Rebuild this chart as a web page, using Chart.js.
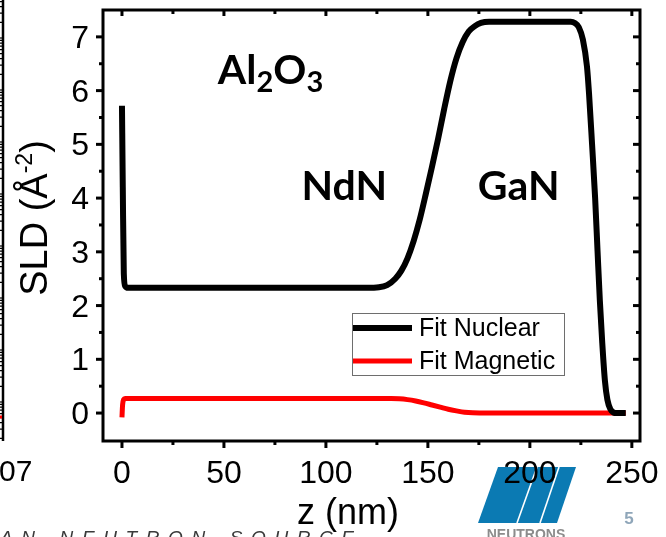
<!DOCTYPE html>
<html>
<head>
<meta charset="utf-8">
<script src="https://cdn.jsdelivr.net/npm/chart.js@4.4.1/dist/chart.umd.min.js"></script>
<style>
  html, body { margin: 0; padding: 0; background: #ffffff; }
  #wrap { width: 666px; height: 537px; position: relative; }
</style>
</head>
<body>
<div id="wrap"><canvas id="sld" width="666" height="537"></canvas></div>
<script>
// Depth profile of the scattering length density, z in nm
const zNuclear = [0, 0.4, 0.9, 1.6, 3, 60, 120, 126, 130, 134, 137, 140, 143, 146, 149, 152, 155, 158, 161, 164, 167, 170, 173, 176, 180, 200, 220, 222, 224, 226, 228, 229, 230.5, 232, 233.2, 234.3, 235.5, 236.8, 238, 239.5, 241, 242.5, 247];
const sldNuclear = [5.72, 4.2, 2.6, 2.36, 2.33, 2.33, 2.33, 2.34, 2.38, 2.5, 2.65, 2.88, 3.2, 3.6, 4.08, 4.58, 5.1, 5.66, 6.18, 6.6, 6.9, 7.1, 7.2, 7.26, 7.28, 7.28, 7.28, 7.26, 7.18, 6.95, 6.45, 5.95, 5.0, 4.0, 3.0, 2.1, 1.3, 0.6, 0.25, 0.07, 0.01, 0.0, 0.0];

const zMagnetic = [0, 0.3, 0.8, 1.5, 3, 60, 120, 132, 136, 140, 144, 148, 152, 156, 160, 164, 168, 172, 180, 247];
const sldMagnetic = [-0.08, 0.15, 0.25, 0.27, 0.27, 0.27, 0.27, 0.27, 0.265, 0.25, 0.225, 0.19, 0.15, 0.11, 0.07, 0.04, 0.015, 0.004, 0, 0];

const seriesNames = ['Fit Nuclear', 'Fit Magnetic'];
const seriesColors = ['#000000', '#ff0000'];

// Axis ticks
const xTickValues = [0, 50, 100, 150, 200, 250];
const xMinorValues = [25, 75, 125, 175, 225];
const yTickValues = [0, 1, 2, 3, 4, 5, 6, 7];
const yMinorValues = [0.5, 1.5, 2.5, 3.5, 4.5, 5.5, 6.5];

// Layer labels placed in data coordinates: [text runs, z, sld]
const layerLabels = [
  { runs: [['Al', 0], ['2', 1], ['O', 0], ['3', 1]], z: 47, sld: 6.12 },
  { runs: [['NdN', 0]], z: 88, sld: 3.97 },
  { runs: [['GaN', 0]], z: 174.5, sld: 3.97 }
];

const AX_FONT = '"Liberation Sans", Arial, sans-serif';
const LBL_FONT = 'Lato, "Open Sans", sans-serif';

function toXY(xs, ys) { return xs.map((x, i) => ({ x: x, y: ys[i] })); }

// Text pieces: [text, size, dy, weight, family]
function runsWidth(ctx, runs) {
  let w = 0;
  for (const r of runs) { ctx.font = `${r[3] || 'normal'} ${r[1]}px ${r[4] || AX_FONT}`; w += ctx.measureText(r[0]).width; }
  return w;
}
function drawRuns(ctx, runs, x, y) {
  let cx = x;
  for (const r of runs) {
    ctx.font = `${r[3] || 'normal'} ${r[1]}px ${r[4] || AX_FONT}`;
    ctx.fillText(r[0], cx, y + (r[2] || 0));
    cx += ctx.measureText(r[0]).width;
  }
}

const decorPlugin = {
  id: 'decor',
  beforeDraw(chart) {
    const ctx = chart.ctx;
    ctx.save();
    ctx.fillStyle = '#ffffff';
    ctx.fillRect(0, 0, chart.width, chart.height);

    // neighbouring panel edge on the left
    ctx.strokeStyle = '#000';
    ctx.lineWidth = 2.5;
    ctx.beginPath(); ctx.moveTo(3, 0); ctx.lineTo(3, 441); ctx.stroke();
    ctx.lineWidth = 1.2;
    for (let d = 0; d < 9; d++) {
      const base = 38 + d * 52;
      for (let k = 1; k <= 9; k++) {
        const yy = base - Math.log10(k) * 52;
        if (yy < 0 || yy > 440) continue;
        ctx.beginPath(); ctx.moveTo(0, yy); ctx.lineTo(k === 1 ? 3 : 2, yy); ctx.stroke();
      }
    }
    ctx.strokeStyle = '#ff0000';
    ctx.lineWidth = 3;
    ctx.beginPath(); ctx.moveTo(0, 417); ctx.lineTo(2, 417); ctx.stroke();
    ctx.fillStyle = '#000';
    ctx.font = `30px ${AX_FONT}`;
    ctx.textBaseline = 'alphabetic';
    ctx.textAlign = 'left';
    ctx.fillText('07', -1, 481);

    // footer line of the slide
    ctx.fillStyle = '#3a3a3a';
    ctx.font = `italic 19px ${AX_FONT}`;
    const footer = 'AN  NEUTRON  SOURCE';
    let fx = 0;
    for (const ch of footer) {
      ctx.fillText(ch, fx, 544);
      fx += (ch === ' ' ? 8 : ctx.measureText(ch).width + 8.6);
    }

    // facility logo
    ctx.fillStyle = '#0b7ab3';
    ctx.beginPath();
    ctx.moveTo(498, 467); ctx.lineTo(576, 467); ctx.lineTo(557, 523); ctx.lineTo(478, 523);
    ctx.closePath(); ctx.fill();
    ctx.strokeStyle = '#ffffff';
    ctx.lineWidth = 1.6;
    ctx.beginPath(); ctx.moveTo(537, 467); ctx.lineTo(517, 523); ctx.stroke();
    ctx.beginPath(); ctx.moveTo(559, 467); ctx.lineTo(540, 523); ctx.stroke();
    ctx.fillStyle = '#8c8c8c';
    ctx.font = `bold 14px ${AX_FONT}`;
    ctx.textAlign = 'center';
    ctx.fillText('NEUTRONS', 526, 539);
    ctx.fillStyle = '#8fa6b9';
    ctx.font = `bold 17px ${AX_FONT}`;
    ctx.fillText('5', 629, 524);
    ctx.restore();
  },
  afterDatasetsDraw(chart) {
    const ctx = chart.ctx;
    const xs = chart.scales.x, ys = chart.scales.y;
    ctx.save();
    ctx.fillStyle = '#000';
    ctx.textBaseline = 'alphabetic';
    ctx.textAlign = 'left';
    for (const lab of layerLabels) {
      const runs = lab.runs.map(r => r[1] ? [r[0], 29, 8, 'bold', LBL_FONT] : [r[0], 41, 0, 'bold', LBL_FONT]);
      drawRuns(ctx, runs, xs.getPixelForValue(lab.z), ys.getPixelForValue(lab.sld));
    }
    ctx.restore();
  },
  afterDraw(chart) {
    const ctx = chart.ctx;
    const a = chart.chartArea;
    const xs = chart.scales.x, ys = chart.scales.y;
    ctx.save();
    ctx.strokeStyle = '#000';
    ctx.lineWidth = 3;
    ctx.strokeRect(a.left, a.top, a.right - a.left, a.bottom - a.top);
    const tick = (x1, y1, x2, y2) => { ctx.beginPath(); ctx.moveTo(x1, y1); ctx.lineTo(x2, y2); ctx.stroke(); };
    for (const v of xTickValues) {
      const p = xs.getPixelForValue(v);
      tick(p, a.bottom, p, a.bottom + 7);
      tick(p, a.top, p, a.top + 6);
    }
    for (const v of xMinorValues) {
      const p = xs.getPixelForValue(v);
      tick(p, a.bottom, p, a.bottom + 4);
      tick(p, a.top, p, a.top + 4);
    }
    for (const v of yTickValues) {
      const p = ys.getPixelForValue(v);
      tick(a.left, p, a.left - 7, p);
      tick(a.right, p, a.right - 7, p);
    }
    for (const v of yMinorValues) {
      const p = ys.getPixelForValue(v);
      tick(a.left, p, a.left - 4, p);
      tick(a.right, p, a.right - 4, p);
    }

    // tick labels
    ctx.fillStyle = '#000';
    ctx.font = `32px ${AX_FONT}`;
    ctx.textAlign = 'center';
    ctx.textBaseline = 'alphabetic';
    for (const v of xTickValues) ctx.fillText(String(v), xs.getPixelForValue(v), 483);
    ctx.textAlign = 'right';
    for (const v of yTickValues) ctx.fillText(String(v), 89, ys.getPixelForValue(v) + 11);

    // axis titles
    ctx.textAlign = 'left';
    const xt = [['z (nm)', 36]];
    drawRuns(ctx, xt, 348 - runsWidth(ctx, xt) / 2, 524);

    const yt = [['SLD (Å', 38], ['-2', 23, -15], [')', 38]];
    ctx.save();
    ctx.translate(47, 218);
    ctx.rotate(-Math.PI / 2);
    drawRuns(ctx, yt, -runsWidth(ctx, yt) / 2, 0);
    ctx.restore();

    // legend box
    const lx = 352, ly = 313, lw = 212, lh = 62;
    ctx.fillStyle = '#fff';
    ctx.fillRect(lx, ly, lw, lh);
    ctx.strokeStyle = '#6e6e6e';
    ctx.lineWidth = 1;
    ctx.strokeRect(lx + 0.5, ly + 0.5, lw, lh);
    chart.data.datasets.forEach((ds, i) => {
      const yy = ly + 15 + i * 33;
      ctx.strokeStyle = ds.borderColor;
      ctx.lineWidth = ds.borderWidth;
      ctx.beginPath(); ctx.moveTo(lx + 1, yy); ctx.lineTo(lx + 60, yy); ctx.stroke();
      ctx.fillStyle = '#000';
      ctx.font = `25px ${AX_FONT}`;
      ctx.textBaseline = 'middle';
      ctx.fillText(ds.label, lx + 67, yy + 1);
    });
    ctx.restore();
  }
};

new Chart(document.getElementById('sld'), {
  type: 'scatter',
  data: {
    datasets: [
      {
        label: seriesNames[0],
        data: toXY(zNuclear, sldNuclear),
        showLine: true,
        borderColor: seriesColors[0],
        borderWidth: 6,
        pointRadius: 0,
        cubicInterpolationMode: 'monotone',
        borderJoinStyle: 'round'
      },
      {
        label: seriesNames[1],
        data: toXY(zMagnetic, sldMagnetic),
        showLine: true,
        borderColor: seriesColors[1],
        borderWidth: 5,
        pointRadius: 0,
        cubicInterpolationMode: 'monotone',
        borderJoinStyle: 'round'
      }
    ]
  },
  options: {
    responsive: false,
    animation: false,
    devicePixelRatio: 1,
    layout: { padding: { top: 10, right: 26, left: 0, bottom: 0 } },
    plugins: { legend: { display: false }, tooltip: { enabled: false } },
    scales: {
      x: {
        type: 'linear', min: -9.3, max: 254,
        grid: { display: false }, border: { display: false },
        ticks: { display: false },
        afterFit(s) { s.height = 96; s.paddingLeft = 0; s.paddingRight = 0; }
      },
      y: {
        type: 'linear', min: -0.52, max: 7.5,
        grid: { display: false }, border: { display: false },
        ticks: { display: false },
        afterFit(s) { s.width = 103; s.paddingTop = 0; s.paddingBottom = 0; }
      }
    }
  },
  plugins: [decorPlugin]
});
</script>
</body>
</html>
